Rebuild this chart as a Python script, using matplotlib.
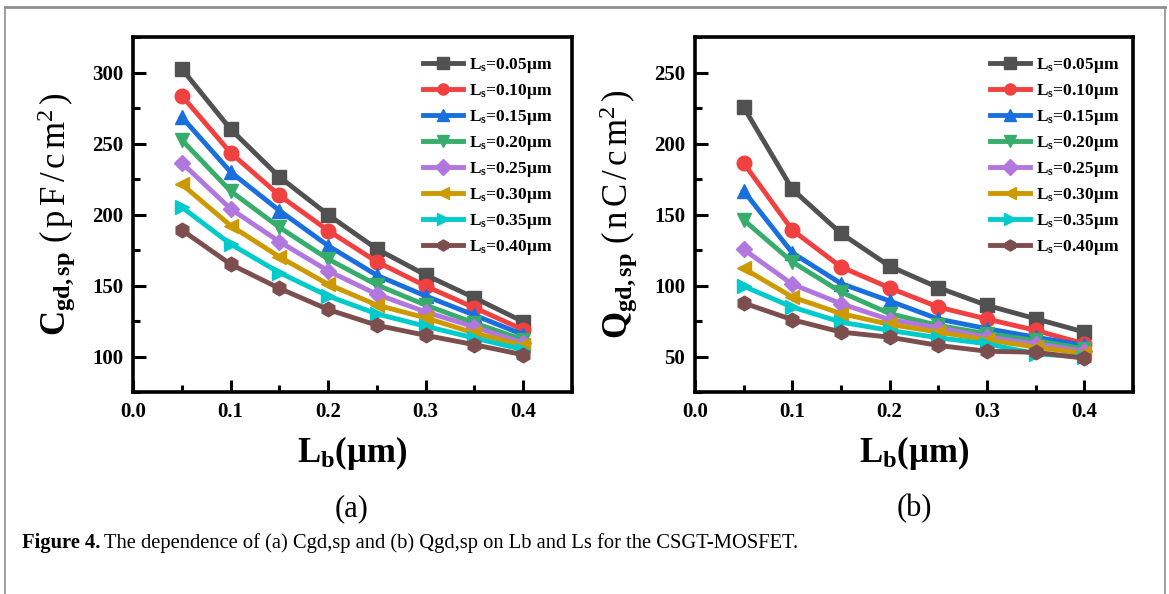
import matplotlib
matplotlib.use('Agg')
import matplotlib.pyplot as plt
from matplotlib.lines import Line2D
from matplotlib.ticker import MultipleLocator

plt.rcParams['font.family'] = ['Liberation Serif', 'DejaVu Serif']
plt.rcParams['mathtext.fontset'] = 'custom'
plt.rcParams['mathtext.rm'] = 'Liberation Serif'
plt.rcParams['mathtext.it'] = 'Liberation Serif:italic'
plt.rcParams['mathtext.bf'] = 'Liberation Serif:bold'

# Lb values (um) on the x axis
lb = [0.05, 0.10, 0.15, 0.20, 0.25, 0.30, 0.35, 0.40]
ls_labels = ['0.05', '0.10', '0.15', '0.20', '0.25', '0.30', '0.35', '0.40']

# (a) Cgd,sp (pF/cm^2), one list per Ls
cgd_005 = [302.6, 260.1, 226.5, 199.8, 175.7, 157.4, 141.3, 124.5]
cgd_010 = [283.7, 243.5, 213.5, 188.7, 166.7, 149.6, 134.3, 118.9]
cgd_015 = [268.6, 230.0, 202.8, 178.0, 157.2, 142.6, 129.1, 115.4]
cgd_020 = [252.5, 216.5, 191.0, 168.6, 150.4, 136.2, 123.6, 111.8]
cgd_025 = [236.4, 204.0, 180.9, 160.3, 143.8, 131.4, 120.8, 109.4]
cgd_030 = [221.3, 192.2, 170.2, 150.9, 136.2, 127.2, 116.5, 107.8]
cgd_035 = [205.2, 179.2, 159.1, 142.6, 130.0, 121.3, 113.0, 104.8]
cgd_040 = [189.1, 165.0, 148.0, 133.1, 122.0, 114.9, 108.3, 101.2]

# (b) Qgd,sp (nC/cm^2), one list per Ls
qgd_005 = [225.5, 167.8, 136.7, 113.6, 98.5, 86.0, 76.6, 67.2]
qgd_010 = [186.2, 139.0, 113.1, 98.3, 84.8, 76.4, 68.4, 59.0]
qgd_015 = [166.6, 123.0, 101.4, 89.1, 76.4, 69.6, 63.6, 57.8]
qgd_020 = [146.1, 116.6, 95.4, 80.2, 71.9, 66.0, 61.3, 55.4]
qgd_025 = [125.4, 100.9, 87.2, 75.9, 70.3, 63.6, 59.0, 53.7]
qgd_030 = [112.0, 91.9, 80.2, 72.6, 67.2, 61.8, 56.6, 52.3]
qgd_035 = [99.5, 84.8, 74.2, 68.4, 63.2, 59.0, 51.9, 49.5]
qgd_040 = [87.7, 75.9, 67.2, 63.6, 57.8, 53.7, 53.0, 48.8]

cgd = [cgd_005, cgd_010, cgd_015, cgd_020, cgd_025, cgd_030, cgd_035, cgd_040]
qgd = [qgd_005, qgd_010, qgd_015, qgd_020, qgd_025, qgd_030, qgd_035, qgd_040]

colors = ['#515151', '#F14040', '#1A6FDF', '#37AD6B',
          '#B177DE', '#CC9900', '#00CBCC', '#7D4E4E']
markers = ['s', 'o', '^', 'v', 'D', '<', '>', 'h']
msizes = [9.5, 10.5, 10.5, 10.5, 8.5, 10.5, 10.5, 10.5]

fig = plt.figure(figsize=(11.69, 5.94), dpi=100)

# gray frame round the figure (open at the bottom)
frame_col = '#8f8f8f'
fig.add_artist(Line2D([5 / 1169, 1165 / 1169], [1 - 7 / 594, 1 - 7 / 594],
                      transform=fig.transFigure, color=frame_col, lw=2))
fig.add_artist(Line2D([5 / 1169, 5 / 1169], [0, 1 - 7 / 594],
                      transform=fig.transFigure, color=frame_col, lw=1.2))
fig.add_artist(Line2D([1165 / 1169, 1165 / 1169], [0, 1 - 7 / 594],
                      transform=fig.transFigure, color=frame_col, lw=1.2))

ax_a = fig.add_axes([133 / 1169, 1 - 392 / 594, 439 / 1169, 355 / 594])
ax_b = fig.add_axes([695 / 1169, 1 - 392 / 594, 438 / 1169, 355 / 594])


def draw_panel(ax, series, ylim, ymaj, ylabel, leg_x):
    for vals, c, m, ms, lab in zip(series, colors, markers, msizes, ls_labels):
        ax.plot(lb, vals, color=c, marker=m, ms=ms, lw=3.5,
                label=r'L$_\mathregular{s}$=' + lab + 'μm')
    ax.set_xlim(0, 0.45)
    ax.set_ylim(*ylim)
    ax.xaxis.set_major_locator(MultipleLocator(0.1))
    ax.xaxis.set_minor_locator(MultipleLocator(0.05))
    ax.yaxis.set_major_locator(MultipleLocator(ymaj))
    ax.yaxis.set_minor_locator(MultipleLocator(ymaj / 2))
    ax.tick_params(which='both', direction='in', top=False, right=False,
                   labelsize=15, pad=7)
    ax.tick_params(which='major', length=9, width=2.2)
    ax.tick_params(which='minor', length=5, width=2.2)
    for lab in ax.get_xticklabels() + ax.get_yticklabels():
        lab.set_fontweight('bold')
    for sp in ax.spines.values():
        sp.set_linewidth(2.6)
    ax.set_xlabel(r'L$_\mathregular{b}$(μm)', fontsize=25, fontweight='bold',
                  labelpad=9)
    ax.set_ylabel(ylabel, fontsize=25, fontweight='normal')
    ax.yaxis.set_label_coords(-0.125, 0.5)
    leg = ax.legend(loc='upper right', bbox_to_anchor=(leg_x, 0.965),
                    frameon=False, handlelength=2.3, handletextpad=0.35,
                    labelspacing=0.4, borderaxespad=0,
                    prop={'family': 'Liberation Serif', 'weight': 'bold',
                          'size': 12.5})
    for h in leg.legend_handles:
        h.set_markersize(8)


draw_panel(ax_a, cgd, (75, 325), 50,
           r'$\mathbf{C}_{\mathbf{gd,sp}}$ $\mathregular{(\,p\,F\,/\,c\,m^{2}\,)}$',
           0.97)
draw_panel(ax_b, qgd, (25, 275), 50,
           r'$\mathbf{Q}_{\mathbf{gd,sp}}$ $\mathregular{(\,n\,C\,/\,c\,m^{2}\,)}$',
           0.985)

fig.text(352 / 1169, 1 - 509 / 594, '(a)', fontsize=22, ha='center', va='center')
fig.text(914 / 1169, 1 - 509 / 594, '(b)', fontsize=22, ha='center', va='center')

# caption: bold lead-in followed by regular text
cap_y = 1 - 543 / 594
t1 = fig.text(22 / 1169, cap_y, 'Figure 4.', fontsize=14.8, fontweight='bold',
              va='center')
fig.canvas.draw()
bb = t1.get_window_extent(renderer=fig.canvas.get_renderer())
fig.text((bb.x1 + 4) / 1169, cap_y,
         'The dependence of (a) Cgd,sp and (b) Qgd,sp on Lb and Ls for the CSGT-MOSFET.',
         fontsize=14.8, va='center')

fig.savefig('out.png', dpi=100)
